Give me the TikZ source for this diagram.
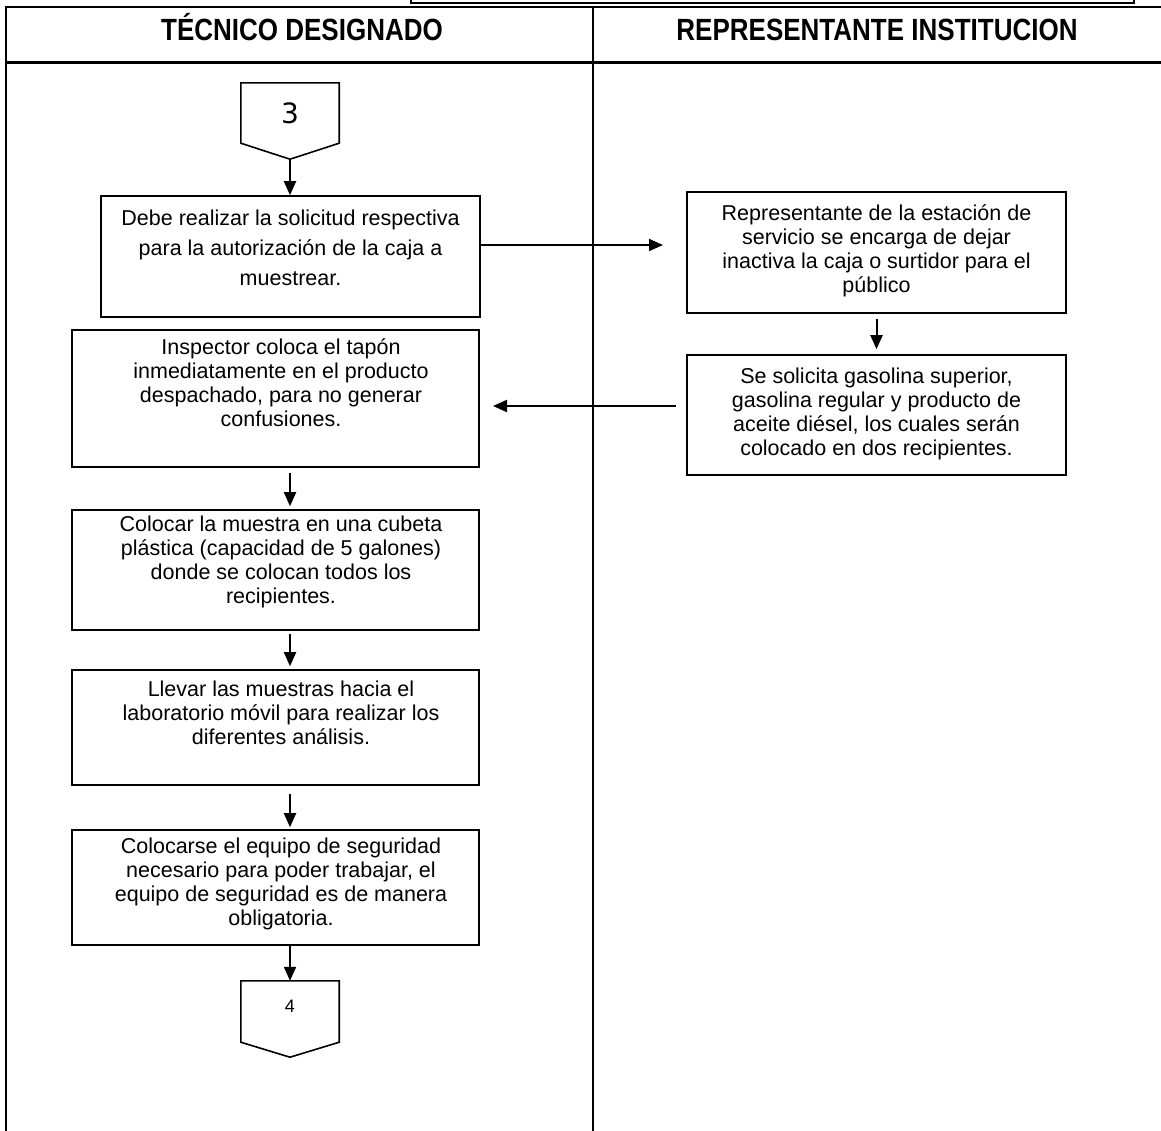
\documentclass[tikz,border=0pt]{standalone}
\usepackage{fontspec}
\usepackage{graphicx}
\setmainfont{Liberation Sans}
\newfontfamily\digitfont{DejaVu Sans}
\usetikzlibrary{arrows.meta}
\begin{document}
\begin{tikzpicture}[x=1pt,y=-1pt,
  stepbox/.style={draw,line width=1.6pt,inner sep=0pt},
  txt/.style={align=center,inner sep=0pt,font=\fontsize{21.5}{24}\selectfont},
  head/.style={font=\bfseries\fontsize{26}{30}\selectfont,inner sep=0pt,anchor=base},
  flow/.style={line width=2pt,-{Triangle[length=14pt,width=12pt]}},
  rule/.style={line width=2pt}]
\useasboundingbox (0,0) rectangle (1161,1130);
\begin{scope}
\clip (0,0) rectangle (1161,1130);
% frame above the table
\draw[line width=2.4pt] (411,-10) -- (411,3) -- (1134,3) -- (1134,-10);
% table lines
\draw[rule] (6,1140) -- (6,7) -- (1170,7);
\draw[line width=3pt] (6,62) -- (1170,62);
\draw[line width=2.4pt] (593,7) -- (593,1140);
\end{scope}
\node[head] (h1) at (302,40) {\scalebox{1}[1.18]{TÉCNICO DESIGNADO}};
\node[head] (h2) at (877,40) {\scalebox{1}[1.18]{REPRESENTANTE INSTITUCION}};

% off-page connector 3
\node[minimum width=98pt,minimum height=76pt,inner sep=0pt] (c3) at (290,121) {};
\draw[line width=1.6pt] (c3.north west) -- (c3.north east) -- ([yshift=16pt]c3.south east)
  -- (c3.south) -- ([yshift=16pt]c3.south west) -- cycle;
\node[font=\digitfont\fontsize{28}{28}\selectfont] (n3) at (290,113) {3};

% boxes
\node[stepbox,minimum width=379pt,minimum height=121pt] (b1) at (290.5,256.5) {};
\node[txt,font=\fontsize{21.5}{30}\selectfont] (t1) at (290.5,248) {Debe realizar la solicitud respectiva\\para la autorización de la caja a\\muestrear.};

\node[stepbox,minimum width=379pt,minimum height=121pt] (r1) at (876.5,252.5) {};
\node[txt] (tr1) at (876.5,251) {Representante de la estación de\\servicio se encarga de dejar\\inactiva la caja o surtidor para el\\público};

\node[stepbox,minimum width=379pt,minimum height=120pt] (r2) at (876.5,415) {};
\node[txt] (tr2) at (876.5,414) {Se solicita gasolina superior,\\gasolina regular y producto de\\aceite diésel, los cuales serán\\colocado en dos recipientes.};

\node[stepbox,minimum width=407pt,minimum height=137pt] (l2) at (275.5,398.5) {};
\node[txt] (tl2) at (281,383) {Inspector coloca el tapón\\inmediatamente en el producto\\despachado, para no generar\\confusiones.};

\node[stepbox,minimum width=407pt,minimum height=120pt] (l3) at (275.5,570) {};
\node[txt] (tl3) at (281,562) {Colocar la muestra en una cubeta\\plástica (capacidad de 5 galones)\\donde se colocan todos los\\recipientes.};

\node[stepbox,minimum width=407pt,minimum height=115pt] (l4) at (275.5,727.5) {};
\node[txt] (tl4) at (281,713) {Llevar las muestras hacia el\\laboratorio móvil para realizar los\\diferentes análisis.};

\node[stepbox,minimum width=407pt,minimum height=115pt] (l5) at (275.5,887.5) {};
\node[txt] (tl5) at (281,884) {Colocarse el equipo de seguridad\\necesario para poder trabajar, el\\equipo de seguridad es de manera\\obligatoria.};

% off-page connector 4
\node[minimum width=98pt,minimum height=76pt,inner sep=0pt] (c4) at (290,1019) {};
\draw[line width=1.6pt] (c4.north west) -- (c4.north east) -- ([yshift=15pt]c4.south east)
  -- (c4.south) -- ([yshift=15pt]c4.south west) -- cycle;
\node[font=\fontsize{18}{18}\selectfont] (n4) at (290,1006) {4};

% connectors
\coordinate (e1) at (663,245);
\coordinate (e2) at (493,406);
\draw[flow] (c3.south) -- (b1.north -| c3.south);
\draw[flow] (b1.east |- e1) -- (e1);
\draw[flow] ([yshift=-5pt]r1.south) -- ([yshift=5pt]r2.north);
\draw[flow] ([xshift=-10pt]r2.west |- e2) -- (e2);
\draw[flow] ([yshift=-5pt]l2.south -| c3.south) -- ([yshift=3pt]l3.north -| c3.south);
\draw[flow] ([yshift=-3pt]l3.south -| c3.south) -- ([yshift=3pt]l4.north -| c3.south);
\draw[flow] ([yshift=-8pt]l4.south -| c3.south) -- ([yshift=2pt]l5.north -| c3.south);
\draw[flow] (l5.south -| c4.north) -- (c4.north);
\end{tikzpicture}
\end{document}
